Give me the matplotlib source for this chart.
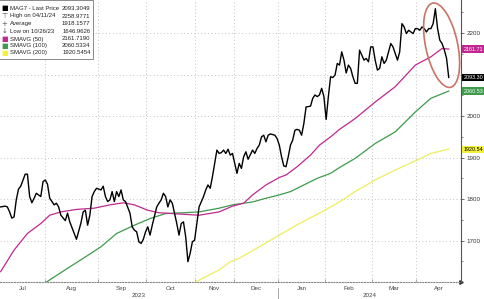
import matplotlib
matplotlib.use("Agg")
import matplotlib.pyplot as plt
import matplotlib.transforms as mtransforms
from matplotlib.patches import Ellipse, Rectangle

# x = trading session number since 3 Jul 2023
price_day = [0, 2, 3, 4, 5, 6, 7, 8, 9, 11, 12, 13, 14, 15, 16, 18, 19, 20, 21, 22,
             24, 25, 26, 27, 29, 30, 31, 33, 34, 36, 37, 38, 39, 40, 41, 42, 43, 45, 46, 47,
             48, 49, 50, 51, 52, 53, 54, 55, 56, 58, 59, 60, 61, 62, 63, 64, 65, 66, 67, 68,
             70, 71, 72, 73, 74, 75, 76, 77, 78, 79, 80, 81, 82, 83, 84, 85, 86, 87, 88, 89,
             91, 92, 93, 94, 95, 96, 97, 98, 99, 100, 101, 102, 103, 104, 105, 106, 107, 108, 109, 110,
             111, 113, 114, 115, 116, 117, 118, 119, 120, 121, 123, 124, 125, 126, 127, 128, 129, 130, 131, 132,
             133, 134, 135, 136, 137, 139, 140, 141, 142, 143, 144, 145, 146, 147, 148, 149, 150, 151, 152, 153,
             154, 155, 156, 157, 158, 159, 160, 161, 162, 163, 164, 165, 166, 167, 168, 169, 170, 171, 172, 173,
             175, 176, 177, 178, 179, 180, 181, 182, 183, 184, 185, 186, 187, 188, 189, 190, 191, 192, 193, 194,
             195, 196, 197, 198, 199, 200, 201]
price_val = [1781, 1783, 1781, 1769, 1754, 1757, 1798, 1824, 1831, 1860, 1860, 1806, 1791, 1802, 1814, 1806, 1842, 1846, 1836, 1802,
             1786, 1790, 1781, 1761, 1748, 1766, 1745, 1717, 1703, 1742, 1769, 1773, 1737, 1761, 1806, 1818, 1826, 1822, 1831, 1806,
             1794, 1798, 1818, 1794, 1818, 1806, 1822, 1798, 1794, 1766, 1733, 1725, 1721, 1697, 1693, 1703, 1721, 1733, 1713, 1737,
             1781, 1790, 1798, 1814, 1806, 1781, 1798, 1790, 1766, 1741, 1713, 1741, 1745, 1709, 1649, 1669, 1697, 1701, 1741, 1781,
             1806, 1822, 1834, 1826, 1854, 1886, 1918, 1910, 1912, 1918, 1910, 1920, 1906, 1910, 1886, 1862, 1886, 1874, 1902, 1914,
             1896, 1918, 1910, 1922, 1930, 1950, 1954, 1938, 1954, 1957, 1954, 1946, 1930, 1902, 1880, 1878, 1902, 1930, 1942, 1966,
             1968, 1966, 1954, 1982, 2022, 2024, 2043, 2051, 2047, 2051, 2067, 2047, 1992, 2047, 2095, 2093, 2099, 2127, 2123, 2155,
             2135, 2104, 2123, 2115, 2095, 2079, 2079, 2159, 2147, 2135, 2139, 2131, 2167, 2167, 2135, 2111, 2115, 2143, 2127, 2135,
             2175, 2167, 2151, 2135, 2155, 2223, 2215, 2199, 2207, 2203, 2199, 2211, 2211, 2207, 2215, 2211, 2203, 2211, 2211, 2223,
             2259, 2211, 2183, 2175, 2160, 2140, 2093.3]

sma50_day = [0, 6, 12, 18, 22, 27, 34, 42, 49, 55, 60, 66, 71, 80, 89, 98, 104, 109, 113, 119,
             125, 128, 133, 139, 143, 148, 152, 159, 168, 177, 186, 193, 198, 201]
sma50_val = [1625, 1677, 1717, 1741, 1761, 1769, 1775, 1778, 1786, 1791, 1786, 1773, 1767, 1764, 1761, 1769, 1783, 1790, 1810, 1834,
             1852, 1858, 1878, 1906, 1930, 1950, 1968, 1994, 2034, 2071, 2123, 2143, 2163, 2161.7]

sma100_day = [20, 30, 37, 45, 52, 60, 67, 74, 82, 89, 98, 104, 109, 113, 119, 125, 130, 136, 142, 148,
              152, 159, 168, 177, 186, 193, 201]
sma100_val = [1598, 1633, 1657, 1685, 1717, 1737, 1753, 1765, 1767, 1769, 1778, 1786, 1790, 1793, 1802, 1810, 1818, 1834, 1850, 1862,
              1876, 1898, 1934, 1962, 2010, 2043, 2060.5]

sma200_day = [87, 98, 103, 107, 116, 125, 134, 143, 152, 159, 168, 177, 186, 193, 201]
sma200_val = [1599, 1629, 1649, 1657, 1685, 1713, 1741, 1766, 1793, 1818, 1846, 1870, 1892, 1910, 1920.5]

# month boundaries (session numbers) and labels
month_start = [20, 43.5, 65, 87, 104.5, 124.5, 145.5, 166.5, 186.5]
month_names = ["Jul", "Aug", "Sep", "Oct", "Nov", "Dec", "Jan", "Feb", "Mar", "Apr"]
years = ["2023", "2024"]

legend_rows = [("MAG7 - Last Price", "2093.3049"),
               ("High on 04/11/24", "2258.9771"),
               ("Average", "1918.1577"),
               ("Low on 10/26/23", "1646.9626"),
               ("SMAVG (50)", "2161.7190"),
               ("SMAVG (100)", "2060.5334"),
               ("SMAVG (200)", "1920.5454")]

BLACK = "#000000"
MAGENTA = "#c0288f"
GREEN = "#3f9a4c"
YELLOW = "#eef06a"

plt.rcParams["font.family"] = ["Liberation Sans", "DejaVu Sans"]

fig = plt.figure(figsize=(4.85, 2.99), dpi=100)
ax = fig.add_axes([0, 1 - 282 / 299, 461 / 485, 282 / 299])
xmin, xmax = -0.3, 206.5
ax.set_xlim(xmin, xmax)
ax.set_ylim(1600, 2280)

# grid
for v in range(1700, 2300, 100):
    ax.axhline(v, color="#c4c4c4", lw=0.7, ls=(0, (1, 2.5)), zorder=0)
for m in month_start:
    ax.axvline(m, color="#c4c4c4", lw=0.7, ls=(0, (1, 2.5)), zorder=0)

ax.plot(sma200_day, sma200_val, color=YELLOW, lw=1.0, zorder=2)
ax.plot(sma100_day, sma100_val, color=GREEN, lw=0.9, zorder=2)
ax.plot(sma50_day, sma50_val, color=MAGENTA, lw=0.9, zorder=2)
ax.plot(price_day, price_val, color=BLACK, lw=1.0, zorder=3)

# y axis on the right
ax.yaxis.tick_right()
ax.set_yticks(range(1700, 2300, 100))
ax.set_yticklabels(["1700", "1800", "1900", "2000", "", "2200"])
ax.set_yticks(range(1650, 2300, 100), minor=True)
ax.tick_params(axis="y", which="major", labelsize=4.5, labelcolor="#333333",
               length=2.5, width=0.6, color="#555555", pad=1.5)
ax.tick_params(axis="y", which="minor", length=1.5, width=0.5, color="#555555")
ax.set_xticks(month_start)
ax.set_xticklabels([])
ax.tick_params(axis="x", length=2, width=0.5, color="#888888", direction="in")

for s in ["left", "top"]:
    ax.spines[s].set_visible(False)
ax.spines["right"].set_color("#555555")
ax.spines["right"].set_linewidth(0.8)
ax.spines["bottom"].set_color("#888888")
ax.spines["bottom"].set_linewidth(0.8)
ax.spines["bottom"].set_linestyle((0, (1, 1.5)))
ax.plot([1.0], [0.0], ">", color="#333333", ms=2.5, transform=ax.transAxes, clip_on=False)

# month / year labels
bounds = [xmin] + month_start + [xmax]
trans = mtransforms.blended_transform_factory(ax.transData, ax.transAxes)
for i, name in enumerate(month_names):
    ax.text((bounds[i] + bounds[i + 1]) / 2, -0.022, name, transform=trans,
            ha="center", va="center", fontsize=4.5, color="#444444")
jan = month_start[5]
ax.text((xmin + jan) / 2, -0.047, years[0], transform=trans, ha="center", va="center",
        fontsize=4.5, color="#444444")
ax.text((jan + xmax) / 2, -0.047, years[1], transform=trans, ha="center", va="center",
        fontsize=4.5, color="#444444")
ax.plot([jan, jan], [-0.02, -0.07], color="#999999", lw=0.6, transform=trans, clip_on=False)

# last-value boxes on the right axis
rtrans = mtransforms.blended_transform_factory(ax.transAxes, ax.transData)
boxes = [(sma50_val[-1], MAGENTA, "white", "2161.71"),
         (price_val[-1], BLACK, "white", "2093.30"),
         (sma100_val[-1], GREEN, "white", "2060.53"),
         (sma200_val[-1], "#f2f23a", "black", "1920.54")]
for val, fc, tc, txt in boxes:
    ax.text(1.005, val, txt, transform=rtrans, ha="left", va="center", fontsize=3.9,
            color=tc, clip_on=False, zorder=6,
            bbox=dict(boxstyle="square,pad=0.2", fc=fc, ec="none"))

# red ring round the latest selloff
ring_x = sum(price_day[-8:]) / 8 + 0.3
ring_y = 2171
ring = Ellipse((0, 0), 0.32, 0.86, angle=12, fill=False, ec="#c97467", lw=1.2,
               transform=fig.dpi_scale_trans + mtransforms.ScaledTranslation(ring_x, ring_y, ax.transData),
               zorder=4, clip_on=False)
ax.add_artist(ring)

# legend box
ax.add_patch(Rectangle((-0.01, 1 - 59 / 282), 0.01 + 92.7 / 461, 59 / 282, transform=ax.transAxes,
                       fc="white", ec="#777777", lw=0.6, zorder=7, clip_on=False))
sym = [("■", BLACK), ("⊤", "#555555"), ("+", "#555555"), ("↓", "#555555"),
       ("■", MAGENTA), ("■", GREEN), ("■", "#f2f23a")]
row_px = [8.3, 16, 23.7, 31.3, 39, 45.9, 52.7]
for (label, value), (ch, col), py in zip(legend_rows, sym, row_px):
    yy = 1 - py / 282
    ax.text(4.5 / 461, yy, ch, transform=ax.transAxes, ha="center", va="center",
            fontsize=5, color=col, zorder=8, family="DejaVu Sans")
    ax.text(10 / 461, yy, label, transform=ax.transAxes, ha="left", va="center",
            fontsize=4.3, color="#222222", zorder=8)
    ax.text(90.5 / 461, yy, value, transform=ax.transAxes, ha="right", va="center",
            fontsize=4.3, color="#222222", zorder=8)

fig.savefig("out.png", dpi=100)
